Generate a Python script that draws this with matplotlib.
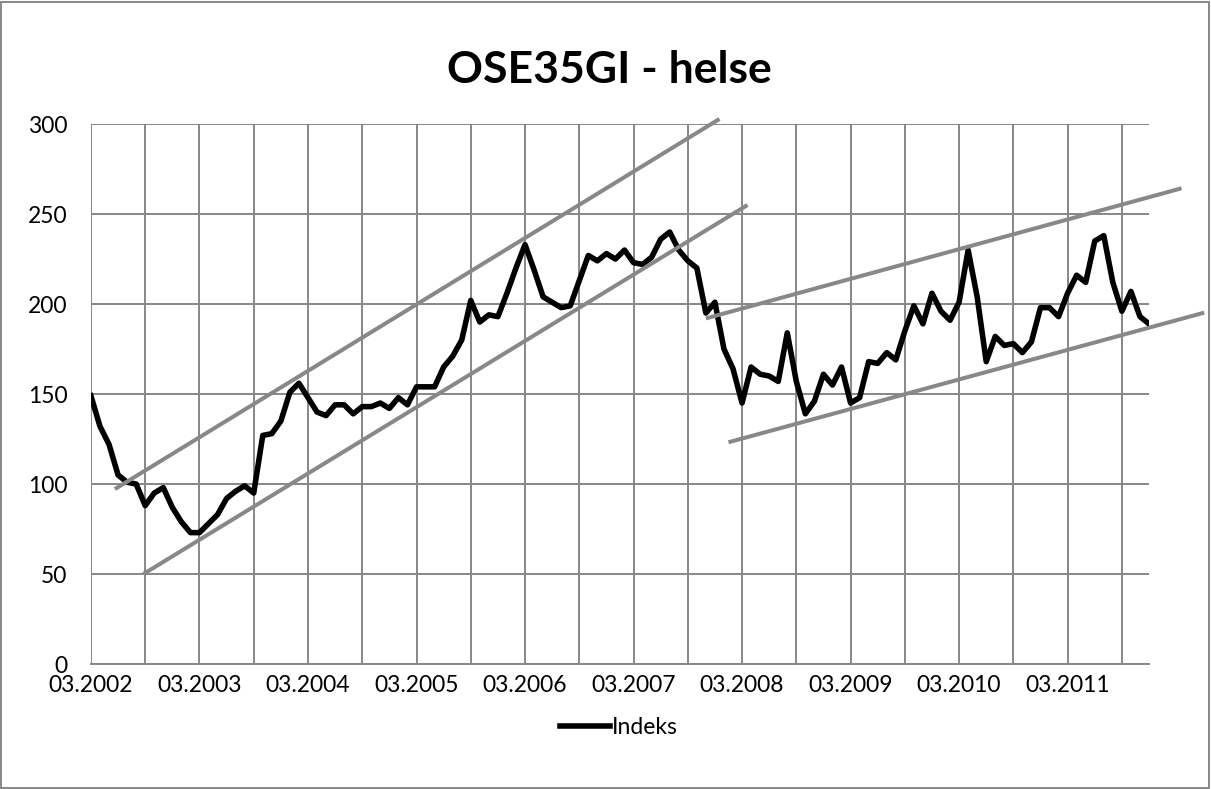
import matplotlib
matplotlib.use("Agg")
import matplotlib.pyplot as plt
from matplotlib.patches import Rectangle

plt.rcParams['font.family'] = ['Lato', 'DejaVu Sans']

# monthly index values, 03.2002 .. 12.2011
indeks = [
    149, 132, 122, 105, 101, 100, 88, 95, 98, 87, 79, 73,
    73, 78, 83, 92, 96, 99, 95, 127, 128, 135, 151, 156,
    148, 140, 138, 144, 144, 139, 143, 143, 145, 142, 148, 144,
    154, 154, 154, 165, 171, 180, 202, 190, 194, 193, 206, 220,
    233, 219, 204, 201, 198, 199, 213, 227, 224, 228, 225, 230,
    223, 222, 226, 236, 240, 230, 224, 220, 195, 201, 175, 164,
    145, 165, 161, 160, 157, 184, 157, 139, 146, 161, 155, 165,
    145, 148, 168, 167, 173, 169, 185, 199, 189, 206, 196, 191,
    201, 230, 204, 168, 182, 177, 178, 173, 179, 198, 198, 193,
    206, 216, 212, 235, 238, 212, 196, 207, 193, 189,
]
tick_labels = ['03.2002', '03.2003', '03.2004', '03.2005', '03.2006',
               '03.2007', '03.2008', '03.2009', '03.2010', '03.2011']

# hand drawn trend channels: (month start, value start, month end, value end)
trend_lines = [
    (2.65, 97.2, 69.5, 302.8),
    (5.8, 50.0, 72.6, 255.0),
    (68.0, 192.0, 120.6, 264.3),
    (70.5, 123.2, 123.1, 195.2),
]

grid_col = '#878787'

fig = plt.figure(figsize=(12.11, 7.89), dpi=100)
ax = fig.add_axes([0.0751, 0.1584, 0.9488 - 0.0751, 0.8428 - 0.1584])

months = list(range(len(indeks)))
ax.plot(months, indeks, color='black', lw=4.0, solid_joinstyle='round',
        label='Indeks', zorder=3)

for x0, y0, x1, y1 in trend_lines:
    ax.plot([x0, x1], [y0, y1], color='#888888', lw=2.9, clip_on=False,
            solid_capstyle='butt', zorder=4)

ax.set_xlim(0, len(indeks) - 1)
ax.set_ylim(0, 300)
ax.set_yticks(range(0, 301, 50))
xt = list(range(0, len(indeks), 6))
ax.set_xticks(xt)
ax.set_xticklabels([tick_labels[i // 2] if i % 2 == 0 else '' for i in range(len(xt))])
ax.grid(True, color=grid_col, lw=1.4)
ax.set_axisbelow(True)
for side in ['top', 'right', 'left']:
    ax.spines[side].set_visible(False)
ax.spines['bottom'].set_color(grid_col)
ax.spines['bottom'].set_linewidth(1.4)
ax.tick_params(axis='both', length=0, labelsize=16.5)
ax.tick_params(axis='y', pad=17)
ax.tick_params(axis='x', pad=8)

fig.text(0.503, 0.911, 'OSE35GI - helse', ha='center', va='center',
         fontsize=32, fontweight='bold')

fig.legend(loc='center', bbox_to_anchor=(0.511, 0.078), frameon=False,
           fontsize=16.5, handlelength=2.2, handletextpad=0.1)

fig.patches.append(Rectangle((0.001, 0.001), 0.997, 0.997, transform=fig.transFigure,
                             fill=False, edgecolor=grid_col, lw=1.4))

fig.savefig('out.png', dpi=100)
